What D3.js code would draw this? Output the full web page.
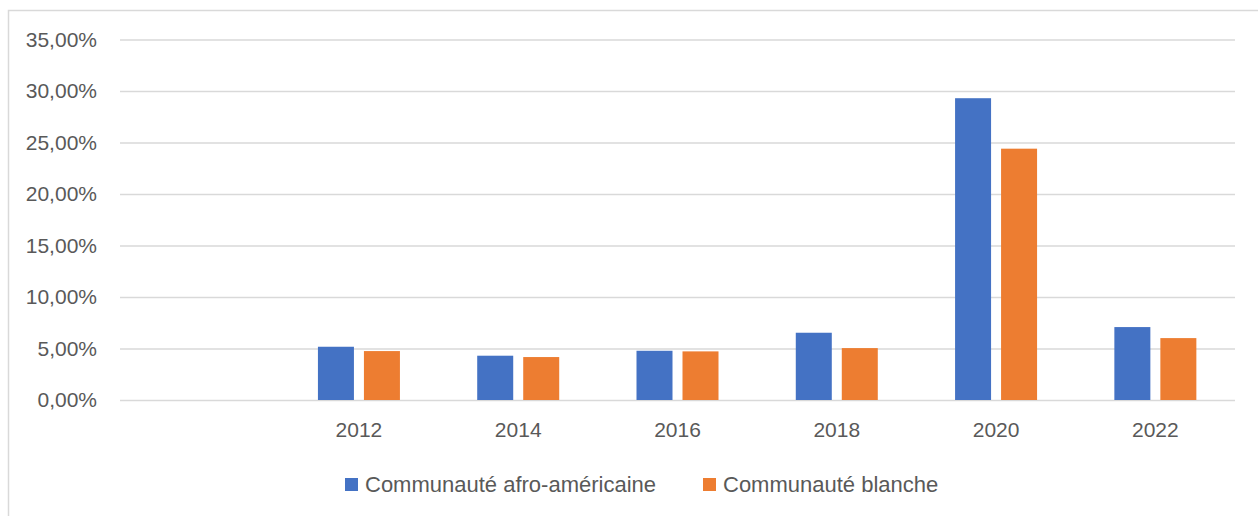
<!DOCTYPE html>
<html>
<head>
<meta charset="utf-8">
<script src="https://cdn.jsdelivr.net/npm/d3@7"></script>
<style>
  body { margin: 0; background: #fff; }
  text { font-family: "Liberation Sans", Arial, sans-serif; fill: #595959; }
</style>
</head>
<body>
<div id="chart"></div>
<script>
//Datos
const categories = ['', '2012', '2014', '2016', '2018', '2020', '2022'];
const seriesNames = ['Communauté afro-américaine', 'Communauté blanche'];
const afroValues = [null, 5.17, 4.3, 4.78, 6.53, 29.3, 7.08];
const blancheValues = [null, 4.75, 4.17, 4.72, 5.04, 24.4, 6.01];
const yTicks = [0, 5, 10, 15, 20, 25, 30, 35];

//Colores
const COLOR_BLUE = '#4472C4', COLOR_ORANGE = '#ED7D31', COLOR_GRID = '#d9d9d9';

const W = 1258, H = 516;
let margin = {top: 39.5, right: 23, bottom: 116, left: 120},
    width = W - margin.left - margin.right,
    height = H - margin.top - margin.bottom;

let root = d3.select('#chart').append('svg')
    .attr('width', W)
    .attr('height', H);

//Marco del gráfico
root.append('rect')
    .attr('x', 8.5).attr('y', 10.5)
    .attr('width', W + 10).attr('height', H + 10)
    .attr('fill', 'none')
    .attr('stroke', COLOR_GRID)
    .attr('stroke-width', 1.5);

let svg = root.append('g')
    .attr('transform', 'translate(' + margin.left + ',' + margin.top + ')');

let x = d3.scaleBand()
    .domain(categories)
    .range([0, width]);

let y = d3.scaleLinear()
    .domain([0, 35])
    .range([height, 0]);

//Eje Y con líneas de cuadrícula
let yAxis = svg.append('g')
    .call(d3.axisLeft(y)
        .tickValues(yTicks)
        .tickSize(-width)
        .tickPadding(23)
        .tickFormat(function(d) { return d.toFixed(2).replace('.', ',') + '%'; }));

yAxis.select('.domain').remove();
yAxis.selectAll('line').attr('stroke', COLOR_GRID).attr('stroke-width', 1.5);
yAxis.selectAll('text').attr('font-size', 21).attr('fill', '#595959');

//Eje X
let xAxis = svg.append('g')
    .attr('transform', 'translate(0,' + height + ')')
    .call(d3.axisBottom(x).tickSize(0).tickPadding(22));

xAxis.select('.domain').remove();
xAxis.selectAll('text').attr('font-size', 21).attr('fill', '#595959');

//Barras
let barW = 36, gap = 10;
let series = [afroValues, blancheValues];
let colors = [COLOR_BLUE, COLOR_ORANGE];

series.forEach(function(values, s) {
    svg.append('g')
        .selectAll('rect')
        .data(categories.map(function(c, i) { return {cat: c, v: values[i]}; }).filter(function(d) { return d.v != null; }))
        .enter()
        .append('rect')
        .attr('fill', colors[s])
        .attr('x', function(d) {
            let c = x(d.cat) + x.bandwidth() / 2;
            return s == 0 ? c - gap / 2 - barW : c + gap / 2;
        })
        .attr('y', function(d) { return y(d.v); })
        .attr('width', barW)
        .attr('height', function(d) { return y(0) - y(d.v); });
});

//Leyenda
let legend = root.append('g').attr('transform', 'translate(345,478)');
let lx = [0, 358];
seriesNames.forEach(function(name, i) {
    let g = legend.append('g').attr('transform', 'translate(' + lx[i] + ',0)');
    g.append('rect')
        .attr('width', 13).attr('height', 13)
        .attr('fill', colors[i]);
    g.append('text')
        .attr('x', 20).attr('y', 14)
        .attr('font-size', 22)
        .text(name);
});
</script>
</body>
</html>
